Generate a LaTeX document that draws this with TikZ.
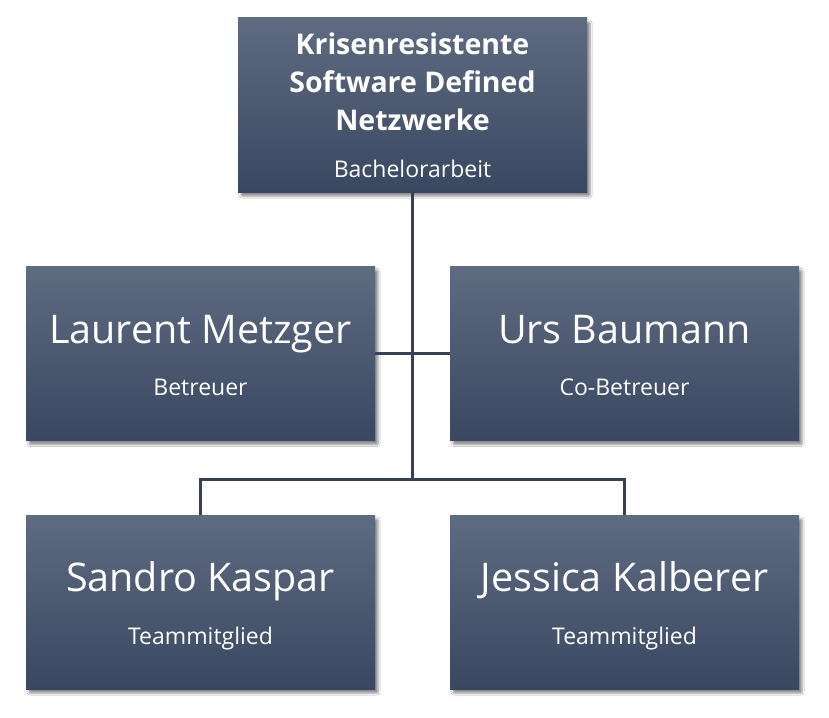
\documentclass[tikz,border=0pt]{standalone}
\usepackage{fontspec}
\setmainfont{Open Sans}
\usetikzlibrary{shadows.blur}
\definecolor{boxtop}{HTML}{5E6B81}
\definecolor{boxbot}{HTML}{3A4761}
\definecolor{linec}{HTML}{344159}
\tikzset{
  orgbox/.style={rectangle, minimum width=349pt, minimum height=174pt, inner sep=0pt,
    top color=boxtop, bottom color=boxbot, draw=none,
    blur shadow={shadow xshift=3pt, shadow yshift=-4pt, shadow blur steps=6, shadow blur extra rounding=1pt, shadow opacity=45}},
  conn/.style={draw=linec, line width=3pt},
  titletxt/.style={text=white, font=\fontsize{28.5}{38}\selectfont\bfseries, align=center, anchor=base, inner sep=0pt},
  nametxt/.style={text=white, font=\fontsize{39.5}{42}\selectfont, anchor=base, inner sep=0pt},
  roletxt/.style={text=white, font=\fontsize{23}{26}\selectfont, anchor=base, inner sep=0pt}
}
\begin{document}
\begin{tikzpicture}[x=1pt,y=-1pt]
\fill[white] (0,0) rectangle (829,717);
\useasboundingbox (0,0) rectangle (829,717);
\coordinate (bus) at (412.5,479);
\node[orgbox] (top) at (412.5,105) {};
\node[orgbox] (ml) at (200.5,353.5) {};
\node[orgbox] (mr) at (624.5,353.5) {};
\node[orgbox] (bl) at (200.5,602) {};
\node[orgbox] (br) at (624.5,602) {};
\draw[conn] (top.south) -- (top.south |- bus);
\draw[conn] (ml.east) -- (mr.west);
\draw[conn] (bl.north) |- (bus) -| (br.north);
\node[titletxt] (t1) at (412.5,55) {Krisenresistente};
\node[titletxt] (t2) at (412.5,92) {Software Defined};
\node[titletxt] (t3) at (412.5,130) {Netzwerke};
\node[roletxt] (t4) at (412.5,177) {Bachelorarbeit};
\node[nametxt] (n1) at (200.5,343) {Laurent Metzger};
\node[roletxt] (r1) at (200.5,395) {Betreuer};
\node[nametxt] (n2) at (624.5,343) {Urs Baumann};
\node[roletxt] (r2) at (624.5,395) {Co-Betreuer};
\node[nametxt] (n3) at (200.5,591) {Sandro Kaspar};
\node[roletxt] (r3) at (200.5,644) {Teammitglied};
\node[nametxt] (n4) at (624.5,591) {Jessica Kalberer};
\node[roletxt] (r4) at (624.5,644) {Teammitglied};
\end{tikzpicture}
\end{document}
